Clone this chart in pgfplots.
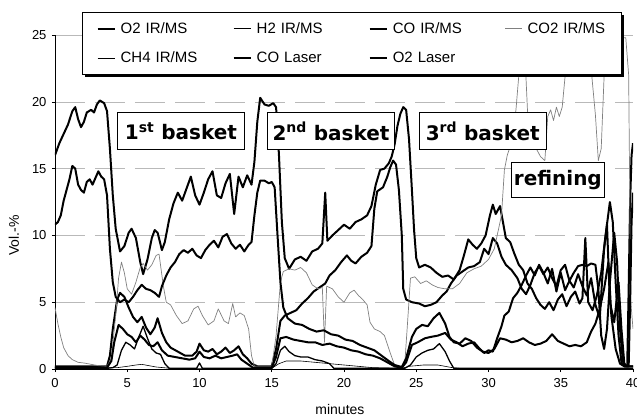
\documentclass[border=0pt]{standalone}
\usepackage{fontspec}
\setmainfont{Liberation Sans}
\newfontfamily\boxfont{DejaVu Sans}
\usepackage{pgfplots}
\pgfplotsset{compat=1.18}

\begin{document}
\begin{tikzpicture}
\begin{axis}[
    name=ax,
    scale only axis,
    width=578pt, height=334pt,
    xmin=0, xmax=40, ymin=0, ymax=25,
    xtick={0,5,...,40}, ytick={0,5,...,25},
    axis x line=bottom, axis y line=left,
    axis line style={-, black, line width=0.8pt},
    tick style={black, line width=0.6pt},
    major tick length=3pt, tick align=outside,
    ymajorgrids,
    grid style={gray!55, dash pattern=on 30pt off 10pt, line width=0.6pt},
    tick label style={font=\fontsize{13}{15}\selectfont},
    xticklabel style={yshift=-3pt},
    yticklabel style={xshift=-2pt},
    /pgf/number format/assume math mode=true,
    xlabel={minutes}, ylabel={Vol.-\%},
    label style={font=\fontsize{14}{16}\selectfont},
    xlabel style={at={(axis description cs:0.493,-0.12)}, anchor=center},
    ylabel style={at={(axis description cs:-0.071,0.40)}, anchor=center},
    no markers,
    every axis plot/.append style={line join=round},
    legend columns=4,
    legend cell align=left,
    legend style={name=leg, at={(axis description cs:0.047,1.069)}, anchor=north west,
        draw=black, line width=0.8pt, fill=white,
        font=\fontsize{15}{17}\selectfont,
        inner xsep=14pt, inner ysep=8pt, row sep=13pt,
        nodes={text width=78pt, inner sep=2pt},
        /tikz/every odd column/.append style={column sep=3pt},
        /tikz/every even column/.append style={column sep=32pt}},
]
% O2 IR/MS
\addplot[black, line width=2pt] coordinates {
(0,16.0) (0.3,16.9) (0.6,17.6) (0.9,18.3) (1.2,19.3) (1.4,19.6) (1.6,18.7) (1.8,18.1) (2.0,18.5) (2.2,19.2) (2.5,19.4) (2.7,19.2) (2.9,19.8) (3.1,20.1) (3.4,19.9) (3.6,19.3) (3.8,16.5) (4.0,13.0) (4.2,10.5) (4.5,8.8) (4.8,9.2) (5.1,10.2) (5.3,10.5) (5.6,9.8) (5.9,8.0) (6.1,7.1) (6.4,8.2) (6.7,9.8) (6.9,10.4) (7.1,10.2) (7.4,8.9) (7.6,9.5) (7.9,11.2) (8.2,12.4) (8.5,13.2) (8.8,12.6) (9.1,13.5) (9.4,14.4) (9.7,13.0) (10.0,12.3) (10.3,13.2) (10.6,14.2) (10.9,14.8) (11.2,13.0) (11.5,12.8) (11.8,13.9) (12.1,14.6) (12.4,11.6) (12.7,14.4) (13.0,13.6) (13.3,14.5) (13.6,13.8) (13.8,15.5) (14.0,18.5) (14.2,20.3) (14.5,19.8) (14.8,19.7) (15.1,19.9) (15.3,19.6) (15.5,16.0) (15.7,11.0) (15.9,8.3) (16.2,7.5) (16.6,8.2) (17.0,8.4) (17.4,8.1) (17.8,8.8) (18.2,9.0) (18.5,9.4) (18.7,13.2) (18.85,9.6) (19.2,10.0) (19.6,10.4) (20.0,10.8) (20.4,10.5) (20.8,11.0) (21.2,11.2) (21.6,11.5) (21.9,12.2) (22.2,13.8) (22.5,14.9) (22.8,15.0) (23.1,15.4) (23.3,15.9) (23.5,16.8) (23.7,18.2) (23.9,19.1) (24.1,19.6) (24.3,19.4) (24.5,17.2) (24.7,13.4) (24.85,10.4) (25.0,8.3) (25.2,7.6) (25.6,7.8) (26.0,7.6) (26.4,7.2) (26.8,6.9) (27.2,7.0) (27.6,6.7) (28.0,7.4) (28.3,8.5) (28.6,9.7) (28.9,9.3) (29.2,9.0) (29.5,9.4) (29.8,10.0) (30.1,11.5) (30.3,12.3) (30.5,11.6) (30.8,12.2) (31.0,11.0) (31.2,9.8) (31.5,9.5) (31.8,8.6) (32.1,7.8) (32.4,7.4) (32.7,6.4) (33.0,6.0) (33.3,5.3) (33.6,4.8) (33.9,4.5) (34.2,5.0) (34.5,4.4) (34.8,5.2) (35.1,5.6) (35.4,4.7) (35.7,5.4) (36.0,5.8) (36.3,4.9) (36.5,5.3) (36.7,9.8) (36.9,5.0) (37.2,4.4) (37.5,5.5) (37.8,7.2) (38.1,10.0) (38.4,12.5) (38.6,11.0) (38.8,6.5) (39.0,2.5) (39.2,0.5) (39.4,0.2) (39.6,0.2) (39.7,6.0) (39.8,12.5) (39.9,16.0) (40,16.9)
};
\addlegendentry{O2 IR/MS}
% H2 IR/MS
\addplot[black, line width=1.3pt] coordinates {
(0,0.05) (3.6,0.05) (4.0,0.1) (4.3,0.3) (4.6,1.4) (4.9,2.0) (5.2,1.8) (5.5,1.5) (5.8,2.4) (6.1,3.2) (6.4,2.3) (6.7,1.5) (7.0,1.2) (7.3,1.1) (7.6,0.4) (7.9,0.05) (9.8,0.05) (10.0,0.45) (10.2,0.05) (15.0,0.05) (15.3,0.4) (15.6,1.4) (15.9,1.7) (16.2,1.3) (16.6,1.0) (17.0,0.9) (17.5,0.9) (18.0,0.7) (18.5,0.6) (19.0,0.4) (19.3,0.05) (24.2,0.05) (24.6,0.3) (25.0,0.9) (25.4,1.2) (25.8,1.4) (26.2,1.5) (26.6,1.9) (27.0,1.3) (27.3,0.6) (27.6,0.05) (40,0.05)
};
\addlegendentry{H2 IR/MS}
% CO IR/MS
\addplot[black, line width=2pt] coordinates {
(0,0.2) (3.6,0.2) (3.8,1.0) (4.0,3.0) (4.3,5.2) (4.5,5.7) (4.8,5.4) (5.1,4.6) (5.4,3.9) (5.7,3.5) (6.0,3.9) (6.3,3.1) (6.6,2.6) (6.9,3.1) (7.1,3.8) (7.4,2.7) (7.7,2.0) (8.0,1.6) (8.5,1.3) (9.0,1.0) (9.5,1.0) (9.8,1.3) (10.0,1.9) (10.3,1.4) (10.6,1.3) (10.9,1.5) (11.2,1.1) (11.5,1.3) (11.8,1.6) (12.1,1.2) (12.4,1.4) (12.7,1.7) (13.0,1.1) (13.3,0.8) (13.6,0.4) (14.0,0.2) (15.0,0.2) (15.3,1.5) (15.6,3.6) (15.9,4.0) (16.3,4.2) (16.7,4.4) (17.1,4.9) (17.5,5.3) (17.9,5.8) (18.3,6.1) (18.7,6.4) (19.0,7.0) (19.4,7.4) (19.8,8.0) (20.2,8.5) (20.5,8.1) (20.8,7.9) (21.2,8.4) (21.6,8.7) (21.9,9.2) (22.1,12.0) (22.3,13.3) (22.7,13.6) (23.0,14.4) (23.2,15.1) (23.4,15.6) (23.6,15.3) (23.8,13.4) (24.0,10.0) (24.1,6.0) (24.3,5.2) (24.7,5.0) (25.2,4.9) (25.6,4.7) (26.0,4.8) (26.4,5.0) (26.8,5.5) (27.1,5.8) (27.4,6.4) (27.8,7.0) (28.2,7.3) (28.6,7.6) (29.0,7.7) (29.4,8.0) (29.7,9.0) (30.0,8.6) (30.3,9.8) (30.6,9.4) (30.9,8.4) (31.2,7.8) (31.6,7.4) (32.0,6.8) (32.3,6.0) (32.6,5.6) (32.9,6.3) (33.2,7.2) (33.5,7.7) (33.8,7.1) (34.1,7.6) (34.4,6.8) (34.7,6.2) (35.0,7.4) (35.3,7.8) (35.6,6.6) (35.9,7.2) (36.2,7.7) (36.5,7.8) (36.8,7.7) (37.1,7.9) (37.4,7.8) (37.6,6.0) (37.8,2.5) (38.0,1.5) (38.2,3.0) (38.4,6.5) (38.7,10.2) (38.9,8.0) (39.1,3.0) (39.3,0.6) (39.5,0.2) (40,0.2)
};
\addlegendentry{CO IR/MS}
% CO2 IR/MS
\addplot[gray, line width=0.7pt] coordinates {
(0,4.6) (0.2,3.4) (0.4,2.4) (0.6,1.6) (0.9,1.0) (1.2,0.7) (1.6,0.5) (2.0,0.45) (2.5,0.35) (3.0,0.25) (3.6,0.2) (3.9,0.8) (4.2,4.0) (4.4,6.8) (4.6,8.0) (4.8,7.2) (5.0,6.0) (5.3,5.6) (5.6,6.5) (5.9,7.6) (6.1,7.9) (6.4,7.4) (6.7,7.8) (7.0,8.5) (7.2,8.6) (7.5,6.2) (7.7,5.0) (8.0,4.8) (8.4,4.0) (8.8,3.4) (9.2,3.6) (9.6,4.5) (9.9,4.7) (10.2,4.0) (10.6,3.3) (11.0,3.6) (11.3,4.5) (11.7,3.6) (12.0,3.4) (12.3,4.9) (12.5,3.9) (12.8,4.2) (13.1,4.0) (13.4,3.0) (13.6,1.0) (13.8,0.2) (15.0,0.2) (15.3,2.5) (15.6,6.5) (15.8,7.3) (16.2,7.5) (16.6,7.4) (17.0,7.6) (17.4,7.2) (17.8,6.3) (18.2,6.0) (18.5,6.1) (18.65,2.0) (18.8,6.2) (19.2,6.0) (19.6,5.4) (20.0,5.0) (20.4,5.7) (20.7,5.9) (21.0,5.5) (21.3,5.2) (21.6,4.8) (21.8,3.5) (22.1,3.0) (22.5,2.8) (22.8,2.5) (23.2,1.2) (23.5,0.3) (23.8,0.1) (24.2,0.3) (24.4,3.5) (24.6,6.8) (24.9,6.9) (25.3,6.4) (25.7,6.6) (26.1,6.3) (26.5,6.1) (27.0,6.0) (27.5,6.0) (28.0,6.4) (28.5,7.2) (29.0,7.5) (29.5,7.7) (30.0,8.2) (30.4,9.0) (30.7,10.5) (30.9,11.5) (31.1,14.9) (31.3,16.0) (31.6,17.0) (31.9,19.4) (32.1,22.0) (32.3,24.5) (32.5,24.0) (32.7,19.3) (33.0,17.5) (33.3,16.5) (33.6,15.9) (33.9,15.6) (34.1,18.9) (34.3,19.4) (34.5,18.6) (34.7,19.6) (34.9,18.9) (35.1,19.6) (35.3,21.9) (35.6,24.0) (36.0,24.5) (36.4,24.2) (36.8,23.5) (37.1,22.5) (37.4,19.0) (37.6,15.6) (37.8,16.5) (38.0,21.9) (38.3,24.0) (38.5,24.8) (39.0,24.8) (39.5,24.8) (39.7,22.0) (39.8,10.0) (39.85,5.0) (40,3.0)
};
\addlegendentry{CO2 IR/MS}
% CH4 IR/MS
\addplot[black, line width=0.6pt] coordinates {
(0,0.1) (3.7,0.1) (4.3,0.1) (5.0,0.2) (5.6,0.3) (6.0,0.35) (6.5,0.25) (7.0,0.15) (8,0.05) (15,0.05) (15.5,0.4) (16,0.6) (17,0.6) (18,0.5) (19,0.4) (20,0.3) (21,0.2) (22,0.1) (24,0.05) (24.5,0.2) (25.5,0.3) (26.5,0.3) (27.5,0.1) (28,0.05) (40,0.05)
};
\addlegendentry{CH4 IR/MS}
% CO Laser
\addplot[black, line width=2pt] coordinates {
(0,0.1) (3.6,0.1) (3.9,0.6) (4.1,2.0) (4.4,3.3) (4.7,3.0) (5.0,2.6) (5.3,2.4) (5.6,2.0) (5.9,2.5) (6.2,2.2) (6.5,1.8) (6.8,1.7) (7.1,2.0) (7.4,1.4) (7.8,1.0) (8.3,0.9) (8.8,0.8) (9.3,0.7) (9.7,0.8) (10.0,1.3) (10.3,0.9) (10.7,0.8) (11.1,1.0) (11.5,0.8) (11.9,0.9) (12.3,1.0) (12.6,1.1) (12.9,0.7) (13.3,0.4) (13.7,0.1) (15.0,0.1) (15.3,0.9) (15.6,2.3) (16.0,2.4) (16.5,2.2) (17.0,2.1) (17.5,2.0) (18.0,2.0) (18.5,1.8) (19.0,1.9) (19.5,1.7) (20.0,1.6) (20.5,1.4) (21.0,1.3) (21.5,1.1) (22.0,1.0) (22.5,0.8) (23.0,0.5) (23.5,0.2) (24.0,0.1) (24.3,0.5) (24.7,1.8) (25.1,2.0) (25.6,2.3) (26.0,2.4) (26.5,2.5) (27.0,2.7) (27.4,2.2) (27.8,2.0) (28.2,1.7) (28.6,1.9) (29.0,2.0) (29.4,1.5) (29.7,1.2) (30.0,1.4) (30.3,1.3) (30.6,2.3) (30.9,3.2) (31.1,4.0) (31.4,4.3) (31.7,5.3) (32.0,5.7) (32.3,6.3) (32.6,7.0) (32.9,7.6) (33.2,7.0) (33.5,7.8) (33.8,7.2) (34.1,6.4) (34.4,7.5) (34.7,5.8) (35.0,7.2) (35.3,5.9) (35.6,6.6) (35.9,6.1) (36.2,7.1) (36.5,6.2) (36.8,5.5) (37.1,6.8) (37.4,4.8) (37.7,3.8) (38.0,9.0) (38.2,10.8) (38.4,5.0) (38.7,3.5) (39.0,6.5) (39.2,3.0) (39.4,0.4) (39.6,0.2) (40,0.2)
};
\addlegendentry{CO Laser}
% O2 Laser
\addplot[black, line width=2pt] coordinates {
(0,10.8) (0.2,11.0) (0.4,11.5) (0.6,12.6) (0.8,13.4) (1.0,14.2) (1.2,15.2) (1.4,15.0) (1.6,13.8) (1.8,13.4) (2.0,13.2) (2.2,14.0) (2.4,14.2) (2.6,13.8) (2.8,14.3) (3.0,14.8) (3.2,14.4) (3.4,14.2) (3.6,13.0) (3.8,9.0) (4.0,6.5) (4.2,5.4) (4.5,5.0) (4.8,5.2) (5.1,5.0) (5.4,5.4) (5.7,5.9) (6.0,6.3) (6.3,6.0) (6.6,5.9) (6.9,5.7) (7.2,5.4) (7.4,6.2) (7.7,7.0) (8.0,7.6) (8.3,8.0) (8.6,8.6) (8.9,8.9) (9.2,8.7) (9.5,9.0) (9.8,8.5) (10.1,8.3) (10.4,8.9) (10.7,9.3) (11.0,9.6) (11.3,9.1) (11.6,9.9) (11.9,10.1) (12.2,9.4) (12.5,9.0) (12.8,9.3) (13.1,8.8) (13.4,9.3) (13.6,9.5) (13.8,11.5) (14.0,13.2) (14.2,14.1) (14.5,14.1) (14.8,13.9) (15.0,14.0) (15.2,13.6) (15.4,10.0) (15.6,6.5) (15.8,4.6) (16.1,3.8) (16.6,3.4) (17.1,3.3) (17.6,3.0) (18.1,2.8) (18.6,2.9) (19.1,2.6) (19.6,2.5) (20.1,2.2) (20.6,2.1) (21.1,1.8) (21.6,1.6) (22.1,1.4) (22.6,1.0) (23.1,0.6) (23.5,0.3) (24.0,0.15) (24.3,0.8) (24.7,2.4) (25.0,3.0) (25.4,3.3) (25.8,3.2) (26.2,3.8) (26.6,4.2) (27.0,3.4) (27.3,2.4) (27.6,2.0) (28.0,1.9) (28.4,2.3) (28.8,2.1) (29.2,1.6) (29.6,1.3) (30.0,1.2) (30.4,1.5) (30.8,2.3) (31.2,2.2) (31.6,2.0) (32.0,2.1) (32.4,2.3) (32.8,2.0) (33.2,1.8) (33.6,1.9) (34.0,2.1) (34.4,2.6) (34.8,2.1) (35.2,1.9) (35.6,1.7) (36.0,1.8) (36.4,1.7) (36.8,2.0) (37.1,2.8) (37.4,3.4) (37.7,4.5) (38.0,6.0) (38.3,8.0) (38.5,4.0) (38.8,1.5) (39.1,0.4) (39.4,0.2) (39.7,0.2) (39.8,5.0) (39.9,11.0) (40,13.2)
};
\addlegendentry{O2 Laser}

\tikzset{phase/.style={draw=black, line width=1pt, fill=white, inner sep=0pt,
    minimum height=37pt, font=\boxfont\bfseries\fontsize{20}{24}\selectfont}}
\node[phase, minimum width=127pt] at (axis cs:8.72,17.8) {1\textsuperscript{st} basket};
\node[phase, minimum width=127pt] at (axis cs:19.1,17.8) {2\textsuperscript{nd} basket};
\node[phase, minimum width=127pt] at (axis cs:29.6,17.8) {3\textsuperscript{rd} basket};
\node[phase, minimum width=93pt, minimum height=35pt] at (axis cs:34.8,14.15) {refining};
\end{axis}
% shadow on the legend frame
\draw[black, line width=2pt] ([xshift=1.4pt,yshift=-3pt]leg.north east) -- ([xshift=1.4pt,yshift=-1.4pt]leg.south east) -- ([xshift=3pt,yshift=-1.4pt]leg.south west);
\pgfresetboundingbox
\path ([xshift=-55pt,yshift=-47pt]ax.south west) rectangle ([xshift=4pt,yshift=35pt]ax.north east);
\end{tikzpicture}
\end{document}
